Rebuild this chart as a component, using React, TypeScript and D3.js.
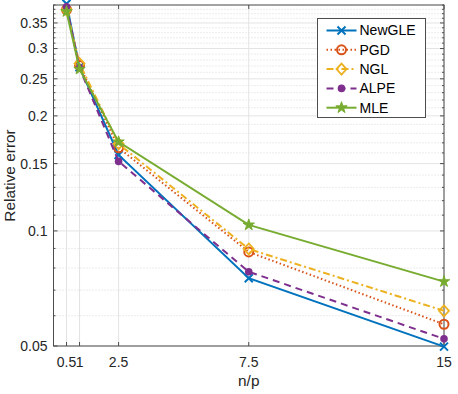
import React, { useEffect, useRef } from 'react';
import * as d3 from 'd3';

// data
const xValues = [0.5, 1, 2.5, 7.5, 15];
const xTickLabels = ['0.5', '1', '2.5', '7.5', '15'];
const yMajorTicks = [0.05, 0.1, 0.15, 0.2, 0.25, 0.3, 0.35];
const newGLE = [0.393, 0.268, 0.158, 0.0752, 0.0498];
const pgd = [0.379, 0.271, 0.165, 0.0881, 0.057];
const ngl = [0.379, 0.274, 0.169, 0.0897, 0.0618];
const alpe = [0.386, 0.267, 0.152, 0.0782, 0.0522];
const mle = [0.375, 0.265, 0.171, 0.1037, 0.0737];

const seriesNames = ['NewGLE', 'PGD', 'NGL', 'ALPE', 'MLE'];
const seriesValues = [newGLE, pgd, ngl, alpe, mle];
const seriesColors = ['#0072BD', '#D95319', '#EDB120', '#7E2F8E', '#77AC30'];
const seriesDash = [null, '1.5 2.5', '7 3 2 3', '7 5', null];
const seriesMarker = ['x', 'o', 'd', '.', 'p'];

const W = 458, H = 394;
const margin = { left: 53.5, right: 14, top: 5, bottom: 48 };
const FONT = '"Liberation Sans", Arial, Helvetica, sans-serif';

function drawMarker(g, type, color) {
  if (type === 'x') {
    g.append('path').attr('d', 'M-4,-4L4,4M-4,4L4,-4')
      .attr('stroke', color).attr('stroke-width', 2).attr('fill', 'none');
  } else if (type === 'o') {
    g.append('circle').attr('r', 4.5)
      .attr('stroke', color).attr('stroke-width', 2).attr('fill', 'none');
  } else if (type === 'd') {
    g.append('path').attr('d', 'M0,-5.5L5,0L0,5.5L-5,0Z')
      .attr('stroke', color).attr('stroke-width', 1.8).attr('fill', 'none');
  } else if (type === '.') {
    g.append('circle').attr('r', 3.8).attr('fill', color);
  } else {
    g.append('path').attr('d', d3.symbol().type(d3.symbolStar).size(40)())
      .attr('fill', color).attr('stroke', color).attr('stroke-width', 1);
  }
}

export default function App() {
  const ref = useRef(null);

  useEffect(() => {
    document.body.style.margin = '0';
    const svg = d3.select(ref.current);
    svg.selectAll('*').remove();

    const x = d3.scaleLinear().domain([0, 15]).range([margin.left, W - margin.right]);
    const y = d3.scaleLog().domain([0.05, 0.39]).range([H - margin.bottom, margin.top]);
    const [x0, x1] = x.range();
    const [yb, yt] = y.range();

    // minor ticks every 0.01
    const minor = d3.range(5, 40).map(v => v / 100)
      .filter(v => !yMajorTicks.some(m => Math.abs(m - v) < 1e-9));

    const grid = svg.append('g');
    grid.selectAll('.minor').data(minor).enter().append('line')
      .attr('x1', x0).attr('x2', x1)
      .attr('y1', d => y(d)).attr('y2', d => y(d))
      .attr('stroke', '#cfcfcf').attr('stroke-width', 0.8).attr('stroke-dasharray', '1 2');
    grid.selectAll('.ymaj').data(yMajorTicks).enter().append('line')
      .attr('x1', x0).attr('x2', x1)
      .attr('y1', d => y(d)).attr('y2', d => y(d))
      .attr('stroke', '#e3e3e3').attr('stroke-width', 1);
    grid.selectAll('.xmaj').data(xValues).enter().append('line')
      .attr('x1', d => x(d)).attr('x2', d => x(d))
      .attr('y1', yb).attr('y2', yt)
      .attr('stroke', '#e3e3e3').attr('stroke-width', 1);

    // box and ticks
    const axis = svg.append('g').attr('stroke', '#4d4d4d').attr('stroke-width', 1);
    axis.append('rect').attr('x', x0).attr('y', yt).attr('width', x1 - x0).attr('height', yb - yt)
      .attr('fill', 'none');
    yMajorTicks.forEach(v => {
      axis.append('line').attr('x1', x0).attr('x2', x0 + 4).attr('y1', y(v)).attr('y2', y(v));
      axis.append('line').attr('x1', x1).attr('x2', x1 - 4).attr('y1', y(v)).attr('y2', y(v));
    });
    minor.forEach(v => {
      axis.append('line').attr('x1', x0).attr('x2', x0 + 2).attr('y1', y(v)).attr('y2', y(v));
      axis.append('line').attr('x1', x1).attr('x2', x1 - 2).attr('y1', y(v)).attr('y2', y(v));
    });
    xValues.forEach(v => {
      axis.append('line').attr('x1', x(v)).attr('x2', x(v)).attr('y1', yb).attr('y2', yb - 4);
      axis.append('line').attr('x1', x(v)).attr('x2', x(v)).attr('y1', yt).attr('y2', yt + 4);
    });

    // tick labels
    const labels = svg.append('g').attr('font-family', FONT).attr('font-size', 14).attr('fill', '#262626');
    labels.selectAll('.yl').data(yMajorTicks).enter().append('text')
      .attr('x', x0 - 6).attr('y', d => y(d)).attr('dy', '0.35em')
      .attr('text-anchor', 'end').text(d => String(d));
    labels.selectAll('.xl').data(xValues).enter().append('text')
      .attr('x', d => x(d)).attr('y', yb + 21)
      .attr('text-anchor', 'middle').text((d, i) => xTickLabels[i]);
    labels.append('text').attr('x', (x0 + x1) / 2).attr('y', yb + 40)
      .attr('font-size', 15.4)
      .attr('text-anchor', 'middle').text('n/p');
    labels.append('text')
      .attr('transform', `translate(15,${(yt + yb) / 2}) rotate(-90)`)
      .attr('font-size', 15.4)
      .attr('text-anchor', 'middle').text('Relative error');

    // series
    const line = d3.line().x((d, i) => x(xValues[i])).y(d => y(d));
    seriesValues.forEach((vals, k) => {
      const g = svg.append('g');
      g.append('path').attr('d', line(vals))
        .attr('fill', 'none').attr('stroke', seriesColors[k]).attr('stroke-width', 2)
        .attr('stroke-dasharray', seriesDash[k]);
      vals.forEach((v, i) => {
        const m = g.append('g').attr('transform', `translate(${x(xValues[i])},${y(v)})`);
        drawMarker(m, seriesMarker[k], seriesColors[k]);
      });
    });

    // legend
    const lg = svg.append('g').attr('transform', 'translate(317.5,18.5)');
    lg.append('rect').attr('width', 108).attr('height', 99)
      .attr('fill', 'white').attr('stroke', '#4d4d4d').attr('stroke-width', 1);
    seriesNames.forEach((name, k) => {
      const cy = 12 + k * 19.3;
      lg.append('line').attr('x1', 9).attr('x2', 39).attr('y1', cy).attr('y2', cy)
        .attr('stroke', seriesColors[k]).attr('stroke-width', 2)
        .attr('stroke-dasharray', seriesDash[k]);
      const m = lg.append('g').attr('transform', `translate(24,${cy})`);
      drawMarker(m, seriesMarker[k], seriesColors[k]);
      lg.append('text').attr('x', 42).attr('y', cy).attr('dy', '0.35em')
        .attr('font-family', FONT).attr('font-size', 14).attr('fill', '#000')
        .text(name);
    });
  }, []);

  return <svg ref={ref} width={W} height={H} style={{ display: 'block' }} />;
}
